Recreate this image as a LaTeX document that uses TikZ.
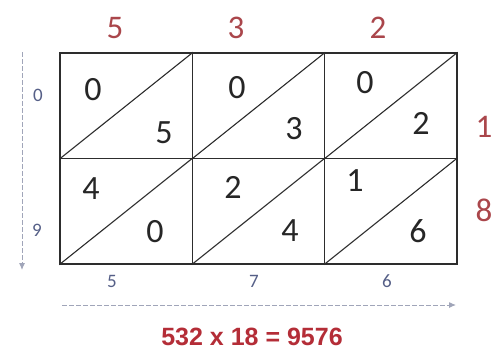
\documentclass[tikz,border=0pt]{standalone}
\usepackage{fontspec}
\setmainfont{Carlito}
\newfontfamily\boldsans{Liberation Sans}
\usetikzlibrary{arrows.meta}
\definecolor{gridline}{RGB}{45,45,45}
\definecolor{topred}{RGB}{170,70,75}
\definecolor{smallblue}{RGB}{85,95,135}
\definecolor{dashgrey}{RGB}{160,165,185}
\definecolor{resred}{RGB}{180,45,55}
\tikzset{
  cell/.style={draw=gridline, line width=1.3pt, minimum width=132.3pt, minimum height=105.5pt, inner sep=0pt},
  diag/.style={draw=gridline, line width=1.1pt},
  dig/.style={inner sep=0pt, font=\fontsize{34}{34}\selectfont, text=black!85},
  toplab/.style={inner sep=0pt, font=\fontsize{33}{33}\selectfont, text=topred},
  smalllab/.style={inner sep=0pt, font=\fontsize{19}{19}\selectfont, text=smallblue},
  dasharrow/.style={draw=dashgrey, line width=1pt, dash pattern=on 5pt off 2pt, -{Latex[length=7pt,width=6pt]}},
  result/.style={inner sep=0pt, font=\boldsans\bfseries\fontsize{25}{25}\selectfont, text=resred}
}
\begin{document}
\begin{tikzpicture}[x=1pt,y=-1pt]
\useasboundingbox[fill=white] (0,0) rectangle (492,351);
% cells
\node[cell] (c11) at (126.2,105.7) {};
\node[cell] (c12) at (258.5,105.7) {};
\node[cell] (c13) at (390.8,105.7) {};
\node[cell] (c21) at (126.2,211.2) {};
\node[cell] (c22) at (258.5,211.2) {};
\node[cell] (c23) at (390.8,211.2) {};
\foreach \c in {c11,c12,c13,c21,c22,c23}
  \draw[diag] (\c.south west) -- (\c.north east);
% digits
\node[dig] (d11a) at (93,90) {0};
\node[dig] (d11b) at (164,133) {5};
\node[dig] (d12a) at (237,88) {0};
\node[dig] (d12b) at (294,129) {3};
\node[dig] (d13a) at (365,83) {0};
\node[dig] (d13b) at (421,123) {2};
\node[dig] (d21a) at (91,189) {4};
\node[dig] (d21b) at (155,232) {0};
\node[dig] (d22a) at (233,187) {2};
\node[dig] (d22b) at (290,231) {4};
\node[dig] (d23a) at (355,181) {1};
\node[dig] (d23b) at (418,231) {6};
% top labels
\node[toplab] (t1) at (115,28) {5};
\node[toplab] (t2) at (236,28) {3};
\node[toplab] (t3) at (378,28) {2};
% right labels
\node[toplab] (r1) at (484,127) {1};
\node[toplab] (r2) at (484,210) {8};
% left labels
\node[smalllab] (l1) at (38,95) {0};
\node[smalllab] (l2) at (37,230) {9};
% bottom labels
\node[smalllab] (b1) at (112,281) {5};
\node[smalllab] (b2) at (254,281) {7};
\node[smalllab] (b3) at (387,281) {6};
% dashed arrows
\coordinate (vs) at (22,52);
\coordinate (ve) at (22,270);
\draw[dasharrow] (vs) -- (ve);
\coordinate (hs) at (62,305);
\coordinate (he) at (456,305);
\draw[dasharrow] (hs) -- (he);
% result
\node[result] (res) at (252,337) {532 x 18 = 9576};
\end{tikzpicture}
\end{document}
